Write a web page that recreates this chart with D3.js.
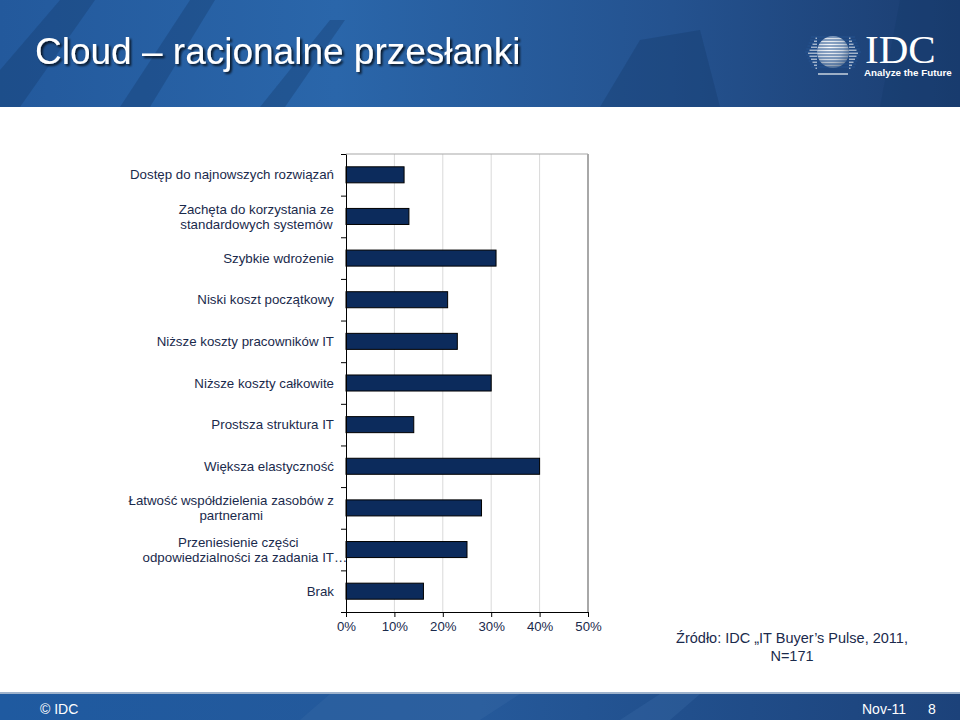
<!DOCTYPE html>
<html><head><meta charset="utf-8">
<script src="https://cdn.jsdelivr.net/npm/d3@7/dist/d3.min.js"></script>
<style>
html,body{margin:0;padding:0;background:#fff;}
svg{display:block;font-family:Arial,"Liberation Sans",sans-serif;}
</style></head>
<body>
<svg id="c" width="960" height="720"></svg>
<script>
const categories = [
  "Dostęp do najnowszych rozwiązań",
  "Zachęta do korzystania ze\nstandardowych systemów",
  "Szybkie wdrożenie",
  "Niski koszt początkowy",
  "Niższe koszty pracowników IT",
  "Niższe koszty całkowite",
  "Prostsza struktura IT",
  "Większa elastyczność",
  "Łatwość współdzielenia zasobów z\npartnerami",
  "Przeniesienie części\nodpowiedzialności za zadania IT…",
  "Brak"
];
const values = [12, 13, 31, 21, 23, 30, 14, 40, 28, 25, 16];
const xTicks = [0, 10, 20, 30, 40, 50];
const title = "Cloud – racjonalne przesłanki";
const sourceLines = ["Źródło: IDC „IT Buyer’s Pulse, 2011,", "N=171"];

const svg = d3.select("#c");
const defs = svg.append("defs");

// header gradient
const hg = defs.append("linearGradient").attr("id","hg").attr("x1",0).attr("x2",1).attr("y1",0).attr("y2",0);
hg.append("stop").attr("offset","0").attr("stop-color","#23599c");
hg.append("stop").attr("offset","0.35").attr("stop-color","#2a66aa");
hg.append("stop").attr("offset","0.7").attr("stop-color","#24528f");
hg.append("stop").attr("offset","1").attr("stop-color","#1b3d70");
const fg = defs.append("linearGradient").attr("id","fg").attr("x1",0).attr("x2",1).attr("y1",0).attr("y2",0);
fg.append("stop").attr("offset","0").attr("stop-color","#1f5aa0");
fg.append("stop").attr("offset","0.5").attr("stop-color","#25599a");
fg.append("stop").attr("offset","1").attr("stop-color","#1c427a");
const sh = defs.append("filter").attr("id","sh").attr("x","-5%").attr("y","-20%").attr("width","110%").attr("height","140%");
sh.append("feDropShadow").attr("dx",2).attr("dy",2).attr("stdDeviation",1).attr("flood-color","#000").attr("flood-opacity",0.75);
const globeG = defs.append("radialGradient").attr("id","gg").attr("cx","0.4").attr("cy","0.35").attr("r","0.7");
globeG.append("stop").attr("offset","0").attr("stop-color","#ffffff");
globeG.append("stop").attr("offset","0.6").attr("stop-color","#c9d3df");
globeG.append("stop").attr("offset","1").attr("stop-color","#6d7f96");

// header
svg.append("rect").attr("x",0).attr("y",0).attr("width",960).attr("height",107).attr("fill","url(#hg)");
const streaks = [
  "M0,70 L60,0 L95,0 L20,107 L0,107 Z",
  "M120,107 L190,0 L215,0 L150,107 Z",
  "M260,107 L330,20 L345,20 L285,107 Z",
  "M900,0 L960,0 L960,107 L880,107 Z",
  "M600,107 L640,40 L700,30 L720,107 Z"
];
svg.append("g").selectAll("path").data(streaks).join("path")
  .attr("d",d=>d).attr("fill","#13386b").attr("opacity",0.35);
svg.append("text").attr("x",35).attr("y",64).attr("fill","#fff")
  .attr("font-size",37).attr("filter","url(#sh)").text(title);

// IDC logo
const logo = svg.append("g");
logo.append("circle").attr("cx",833).attr("cy",52).attr("r",16).attr("fill","url(#gg)");
const stripeYs = d3.range(37, 70, 3);
logo.selectAll("line.s").data(stripeYs).join("line")
  .attr("x1",d=>805 + Math.abs(d-52)*0.4).attr("x2",d=>861 - Math.abs(d-52)*0.4)
  .attr("y1",d=>d).attr("y2",d=>d).attr("stroke","#24528f").attr("stroke-width",1);
logo.selectAll("line.w").data(stripeYs).join("line")
  .attr("x1",d=>808 + Math.abs(d-52)*0.5).attr("x2",d=>817)
  .attr("y1",d=>d+1.2).attr("y2",d=>d+1.2).attr("stroke","#dfe6ee").attr("stroke-width",1);
logo.selectAll("line.w2").data(stripeYs).join("line")
  .attr("x1",d=>849).attr("x2",d=>858 - Math.abs(d-52)*0.5)
  .attr("y1",d=>d+1.2).attr("y2",d=>d+1.2).attr("stroke","#dfe6ee").attr("stroke-width",1);
logo.append("line").attr("x1",818).attr("x2",848).attr("y1",74).attr("y2",74).attr("stroke","#c9d3df").attr("stroke-width",1.5);
logo.append("text").attr("x",865).attr("y",63).attr("fill","#fff")
  .attr("font-family","'Liberation Serif','Times New Roman',serif").attr("font-size",41).text("IDC");
logo.append("text").attr("x",864).attr("y",76).attr("fill","#fff").attr("font-weight","bold")
  .attr("font-size",9.8).text("Analyze the Future");

// footer
svg.append("rect").attr("x",0).attr("y",693).attr("width",960).attr("height",27).attr("fill","url(#fg)");
svg.append("rect").attr("x",0).attr("y",692).attr("width",960).attr("height",2).attr("fill","#9fb3cc");
svg.append("g").selectAll("path").data(["M300,720 L330,694 L520,694 L480,720 Z","M620,720 L660,694 L700,694 L670,720 Z"]).join("path")
  .attr("d",d=>d).attr("fill","#3a6aa5").attr("opacity",0.35);
svg.append("text").attr("x",40).attr("y",714).attr("fill","#fff").attr("font-size",14).text("© IDC");
svg.append("text").attr("x",862).attr("y",714).attr("fill","#fff").attr("font-size",14).text("Nov-11");
svg.append("text").attr("x",928).attr("y",714).attr("fill","#fff").attr("font-size",14).text("8");

// chart
const L = 346, R = 588, T = 154, B = 612;
const x = d3.scaleLinear().domain([0,50]).range([L,R]);
const y = d3.scaleBand().domain(categories).range([T,B]).paddingInner(0.615).paddingOuter(0.3075);
const yb = d3.scaleLinear().domain([0, categories.length]).range([T,B]);
const textCol = "#1a2a4c";

const g = svg.append("g");
// gridlines
g.append("g").selectAll("line").data(xTicks.filter(t=>t>0 && t<50)).join("line")
  .attr("x1",d=>x(d)).attr("x2",d=>x(d)).attr("y1",T).attr("y2",B)
  .attr("stroke","#d9d9d9").attr("stroke-width",1);
g.append("line").attr("x1",x(50)).attr("x2",x(50)).attr("y1",T).attr("y2",B)
  .attr("stroke","#a8a8a8").attr("stroke-width",2);
g.append("line").attr("x1",L).attr("x2",R).attr("y1",T).attr("y2",T)
  .attr("stroke","#a8a8a8").attr("stroke-width",1.2);

// bars
g.append("g").selectAll("rect").data(values).join("rect")
  .attr("x",x(0)).attr("y",(d,i)=>y(categories[i]))
  .attr("width",d=>x(d)-x(0)).attr("height",y.bandwidth())
  .attr("fill","#0c2b5c").attr("stroke","#000").attr("stroke-width",1);

// axes
const xAxis = g.append("g").attr("transform",`translate(0,${B})`)
  .call(d3.axisBottom(x).tickValues(xTicks).tickFormat(d=>d+"%").tickSize(5).tickSizeOuter(0).tickPadding(5));
xAxis.select(".domain").attr("stroke","#000");
xAxis.selectAll(".tick line").attr("stroke","#000");
xAxis.selectAll("text").attr("fill",textCol).attr("font-size",13.2).attr("font-family","Arial,'Liberation Sans',sans-serif");

const yAxis = g.append("g").attr("transform",`translate(${L},0)`)
  .call(d3.axisLeft(yb).tickValues(d3.range(categories.length+1)).tickFormat("").tickSize(5).tickSizeOuter(0));
yAxis.select(".domain").attr("stroke","#000");
yAxis.selectAll(".tick line").attr("stroke","#000");

// category labels
const labelRight = 334;
const lineH = 15;
categories.forEach(cat => {
  const lines = cat.split("\n");
  const grp = g.append("g");
  const cy = y(cat) + y.bandwidth()/2;
  const tmp = grp.selectAll("text").data(lines).join("text")
    .attr("font-size",13.3).attr("fill",textCol).text(d=>d);
  const widths = [];
  tmp.each(function(d){
    const full = this.getComputedTextLength();
    let w = full;
    if (d.endsWith("…")) {
      this.textContent = d.slice(0,-1);
      w = this.getComputedTextLength();
      this.textContent = d;
    }
    widths.push({full, w, ell: d.endsWith("…")});
  });
  const maxW = d3.max(widths, d=>d.w);
  const center = labelRight - maxW/2;
  tmp.each(function(d,i){
    const o = widths[i];
    const sel = d3.select(this);
    sel.attr("y", cy + (i - (lines.length-1)/2)*lineH).attr("dy","0.35em");
    if (o.ell) sel.attr("text-anchor","start").attr("x", center - o.w/2);
    else sel.attr("text-anchor","middle").attr("x", center);
  });
});

// source note
svg.append("g").selectAll("text").data(sourceLines).join("text")
  .attr("x",792).attr("y",(d,i)=>643 + i*18).attr("text-anchor","middle")
  .attr("font-size",14.5).attr("fill",textCol).text(d=>d);
</script>
</body></html>
